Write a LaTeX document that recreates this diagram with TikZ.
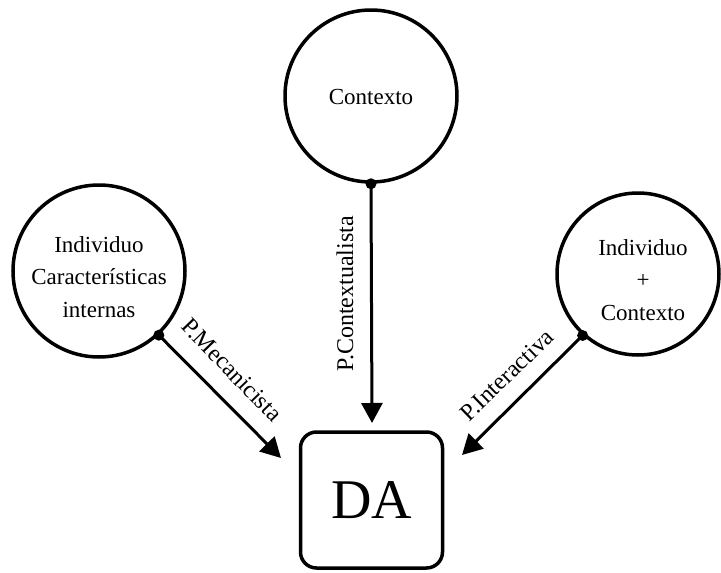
\documentclass[tikz,border=0pt]{standalone}
\usepackage{fontspec}
\setmainfont{Liberation Serif}
\usetikzlibrary{arrows.meta}
\begin{document}
\begin{tikzpicture}[x=1pt,y=-1pt,
  circ/.style={circle,draw,line width=3.5pt,inner sep=0pt},
  txt/.style={align=center,inner sep=0pt,font=\fontsize{23}{32.5}\selectfont},
  dabox/.style={draw,line width=3.5pt,rounded corners=16pt,inner sep=0pt,
    font=\fontsize{56}{60}\selectfont},
  conn/.style={line width=3pt,-{Triangle[length=20pt,width=21pt]}},
  lab/.style={font=\fontsize{24}{28}\selectfont,inner sep=0pt},
  dot/.style={circle,fill,inner sep=0pt,minimum size=11pt}]
\useasboundingbox (0,0) rectangle (721,573);
\node[circ,minimum size=172pt] (C) at (371,96) {};
\node[txt] (Ct) at (371,97) {Contexto};
\node[circ,minimum size=172pt] (L) at (99,271) {};
\node[txt] (Lt) at (99,277) {Individuo\\Características\\internas};
\node[circ,minimum size=162pt] (R) at (638,274) {};
\node[txt] (Rt) at (643,280) {Individuo\\+\\Contexto};
\node[dabox,minimum width=142pt,minimum height=136pt] (DA) at (371.5,500) {DA};
\coordinate (tipC) at (372,423);
\coordinate (tipL) at (281,458);
\coordinate (tipR) at (462,455);
\draw[conn] (C.south) -- (tipC);
\draw[conn] (L.-47) -- (tipL);
\draw[conn] (R.-132) -- (tipR);
\node[dot] (dC) at (C.south) {};
\node[dot] (dL) at (L.-47) {};
\node[dot] (dR) at (R.-132) {};
\node[lab,rotate=90] (lC) at (345,294) {P.Contextualista};
\node[lab,rotate=-46] (lL) at (232,370) {P.Mecanicista};
\node[lab,rotate=44] (lR) at (507,375) {P.Interactiva};
\end{tikzpicture}
\end{document}
